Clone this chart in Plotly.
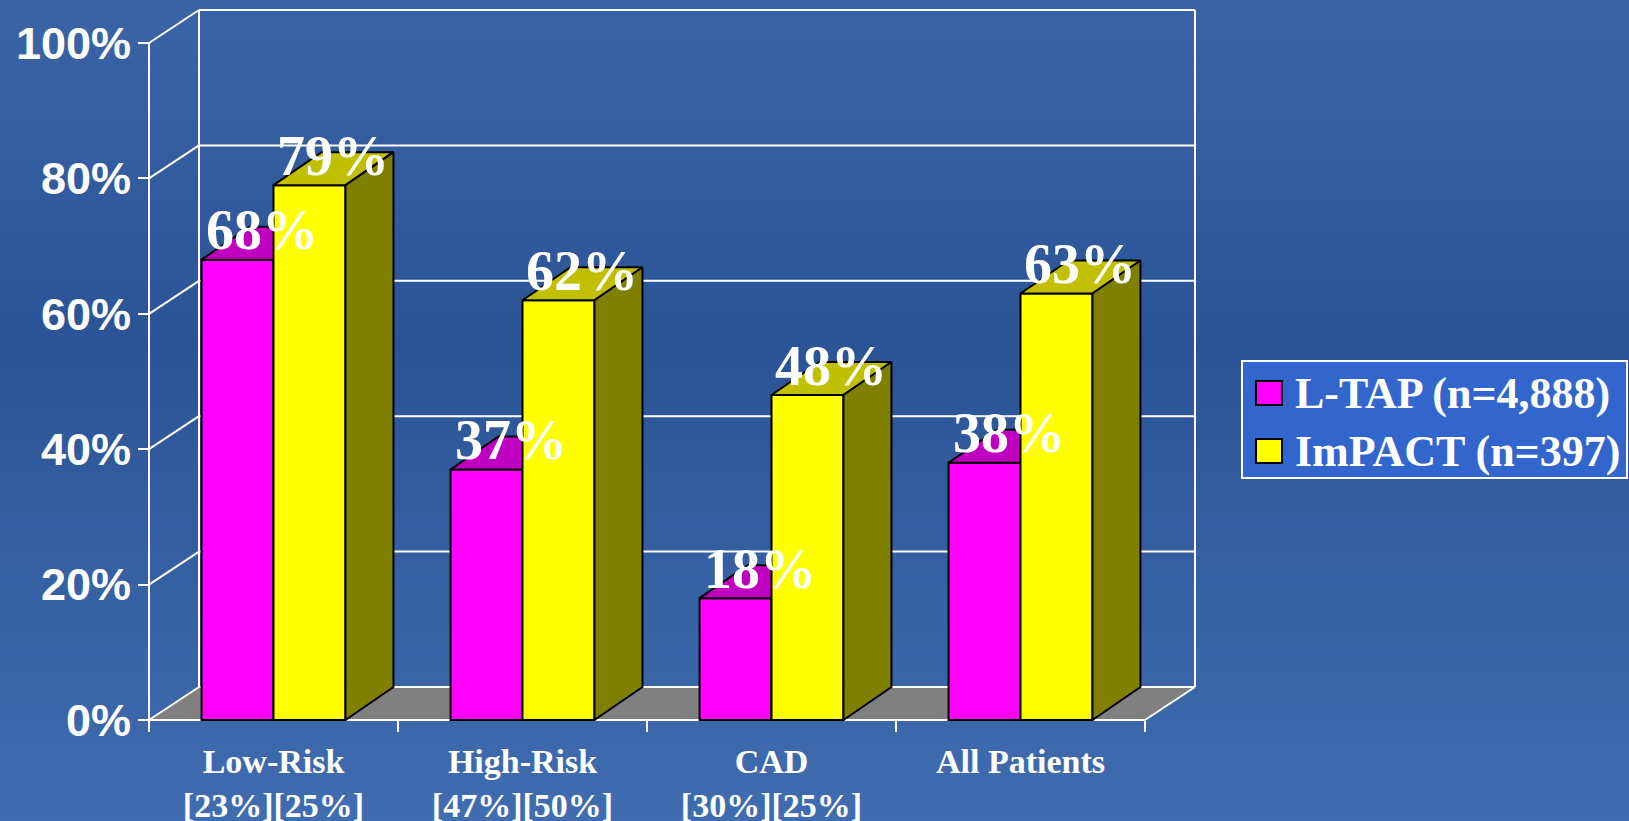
import plotly.graph_objects as go

# ---------------- data ----------------
categories = ["Low-Risk", "High-Risk", "CAD", "All Patients"]
sub_labels = ["[23%][25%]", "[47%][50%]", "[30%][25%]", ""]
ltap_values = [68, 37, 18, 38]
impact_values = [79, 62, 48, 63]
series_names = ["L-TAP (n=4,888)", "ImPACT (n=397)"]
y_ticks = [0, 20, 40, 60, 80, 100]
y_tick_text = [f"{v}%" for v in y_ticks]

# ---------------- geometry (pixel scale of the figure) ----------------
W, H = 1629, 821
X0_PX, CAT_PX = 149, 249          # front-left corner, width of one category
Y0_PX, UNIT_PX = 720, 6.77        # y=0 pixel row, pixels per percent
xr = [-X0_PX / CAT_PX, (W - X0_PX) / CAT_PX]
yr = [(Y0_PX - H) / UNIT_PX, Y0_PX / UNIT_PX]

BAR_W = 0.289                     # bar width in category units
BDX, BDY = 48 / CAT_PX, 33 / UNIT_PX   # bar depth offset
WDX, WDY = 50 / CAT_PX, 33 / UNIT_PX   # wall depth offset
n = len(categories)
centers = [i + 0.5 for i in range(n)]

SERIF = "Liberation Serif, Times New Roman, serif"
SANS = "Liberation Sans, Arial, sans-serif"

fig = go.Figure()

# ---------------- background gradient ----------------
stops = [(0.0, (58, 100, 166)), (0.42, (43, 84, 150)), (1.0, (64, 109, 176))]
def grad(t):
    for (t0, c0), (t1, c1) in zip(stops[:-1], stops[1:]):
        if t0 <= t <= t1:
            f = (t - t0) / (t1 - t0)
            return "rgb(%d,%d,%d)" % tuple(round(a + (b - a) * f) for a, b in zip(c0, c1))
    return "rgb(%d,%d,%d)" % stops[-1][1]
NB = 90
shapes = []
for i in range(NB):
    t = (i + 0.5) / NB
    shapes.append(dict(type="rect", xref="paper", yref="paper", x0=0, x1=1,
                       y0=1 - (i + 1) / NB - 0.002, y1=1 - i / NB,
                       fillcolor=grad(t), line=dict(width=0), layer="below"))

WL = dict(color="white", width=2)
# floor
shapes.append(dict(type="path", xref="x", yref="y", layer="below",
                   path=f"M0,0 L{n},0 L{n + WDX},{WDY} L{WDX},{WDY} Z",
                   fillcolor="#808080", line=dict(width=0)))
# back wall gridlines and left wall diagonals
for v in y_ticks:
    shapes.append(dict(type="line", xref="x", yref="y", layer="below",
                       x0=WDX, x1=n + WDX, y0=v + WDY, y1=v + WDY, line=WL))
    shapes.append(dict(type="line", xref="x", yref="y", layer="below",
                       x0=0, x1=WDX, y0=v, y1=v + WDY, line=WL))
# wall verticals
shapes.append(dict(type="line", xref="x", yref="y", layer="below",
                   x0=WDX, x1=WDX, y0=WDY, y1=100 + WDY, line=WL))
shapes.append(dict(type="line", xref="x", yref="y", layer="below",
                   x0=n + WDX, x1=n + WDX, y0=WDY, y1=100 + WDY, line=WL))
# front axis line, front floor edge, right floor edge
shapes.append(dict(type="line", xref="x", yref="y", layer="below",
                   x0=0, x1=0, y0=0, y1=100, line=WL))
shapes.append(dict(type="line", xref="x", yref="y", layer="below",
                   x0=0, x1=n, y0=0, y1=0, line=WL))
shapes.append(dict(type="line", xref="x", yref="y", layer="below",
                   x0=n, x1=n + WDX, y0=0, y1=WDY, line=WL))

# ---------------- 3D bars ----------------
def faces(vals, offset):
    tx, ty, sx, sy = [], [], [], []
    for c, v in zip(centers, vals):
        x0 = c + offset
        x1 = x0 + BAR_W
        tx += [x0, x1, x1 + BDX, x0 + BDX, x0, None]
        ty += [v, v, v + BDY, v + BDY, v, None]
        sx += [x1, x1 + BDX, x1 + BDX, x1, x1, None]
        sy += [0, BDY, v + BDY, v, 0, None]
    return tx, ty, sx, sy

series = [
    (ltap_values, -BAR_W, "#FF00FF", "#C000C0", "#800080", "x", "y"),
    (impact_values, 0.0, "#FFFF00", "#C0C000", "#808000", "x2", "y2"),
]
for (vals, off, cf, ct, cs, xa, ya), name in zip(series, series_names):
    fig.add_trace(go.Bar(x=centers, y=vals, width=BAR_W, offset=off, name=name,
                         marker=dict(color=cf, line=dict(color="black", width=2)),
                         xaxis=xa, yaxis=ya, showlegend=False, hoverinfo="skip"))
    tx, ty, sx, sy = faces(vals, off)
    fig.add_trace(go.Scatter(x=tx, y=ty, mode="lines", fill="toself", fillcolor=ct,
                             line=dict(color="black", width=2), xaxis=xa, yaxis=ya,
                             showlegend=False, hoverinfo="skip"))
    fig.add_trace(go.Scatter(x=sx, y=sy, mode="lines", fill="toself", fillcolor=cs,
                             line=dict(color="black", width=2), xaxis=xa, yaxis=ya,
                             showlegend=False, hoverinfo="skip"))

# ---------------- value labels ----------------
annotations = []
for vals, off in [(ltap_values, -BAR_W), (impact_values, 0.0)]:
    for c, v in zip(centers, vals):
        annotations.append(dict(
            x=c + off + BAR_W / 2 + BDX / 2, y=v + BDY / 2, xref="x", yref="y",
            text=f"{v}%", showarrow=False, yshift=13,
            font=dict(family=SERIF, size=56, color="white", weight="bold")))

# ---------------- legend (drawn) ----------------
def px2paper_x(p): return p / W
def px2paper_y(p): return 1 - p / H
shapes.append(dict(type="rect", xref="paper", yref="paper",
                   x0=px2paper_x(1242), x1=px2paper_x(1627),
                   y0=px2paper_y(478), y1=px2paper_y(361),
                   fillcolor="#3366CC", line=dict(color="white", width=2)))
for name, color, cy in zip(series_names, ["#FF00FF", "#FFFF00"], [393, 451]):
    shapes.append(dict(type="rect", xref="paper", yref="paper",
                       x0=px2paper_x(1256), x1=px2paper_x(1282),
                       y0=px2paper_y(cy + 12), y1=px2paper_y(cy - 12),
                       fillcolor=color, line=dict(color="black", width=2)))
    annotations.append(dict(x=px2paper_x(1293), y=px2paper_y(cy), xref="paper", yref="paper",
                            xanchor="left", yanchor="middle", showarrow=False, text=name,
                            font=dict(family=SERIF, size=44, color="white", weight="bold")))

tick_text = [f"{c}<br>{s}" if s else c for c, s in zip(categories, sub_labels)]

fig.update_layout(
    template="none",
    width=W, height=H, margin=dict(l=0, r=0, t=0, b=0, pad=0, autoexpand=False),
    paper_bgcolor="#2F5898", plot_bgcolor="rgba(0,0,0,0)",
    barmode="overlay", shapes=shapes, annotations=annotations, showlegend=False,
    xaxis=dict(range=xr, domain=[0, 1], anchor="free", position=-yr[0] / (yr[1] - yr[0]),
               automargin=False,
               tickmode="array", tickvals=centers, ticktext=tick_text, ticks="",
               ticklabelstandoff=18,
               minor=dict(tickmode="array", tickvals=list(range(n + 1)), ticks="outside",
                          ticklen=11, tickwidth=2, tickcolor="white", showgrid=False),
               showgrid=False, zeroline=False, showline=False,
               tickfont=dict(family=SERIF, size=34, color="white", weight="bold")),
    yaxis=dict(range=yr, domain=[0, 1], anchor="free", position=X0_PX / W, side="left",
               automargin=False,
               tickmode="array", tickvals=y_ticks, ticktext=y_tick_text,
               ticks="outside", ticklen=11, tickwidth=2, tickcolor="white",
               ticklabelstandoff=-2,
               showgrid=False, zeroline=False, showline=False,
               tickfont=dict(family=SANS, size=45, color="white", weight="bold")),
    xaxis2=dict(range=xr, overlaying="x", visible=False, anchor="y2", automargin=False),
    yaxis2=dict(range=yr, overlaying="y", visible=False, anchor="x2", automargin=False),
)

fig.write_html("out.html")
